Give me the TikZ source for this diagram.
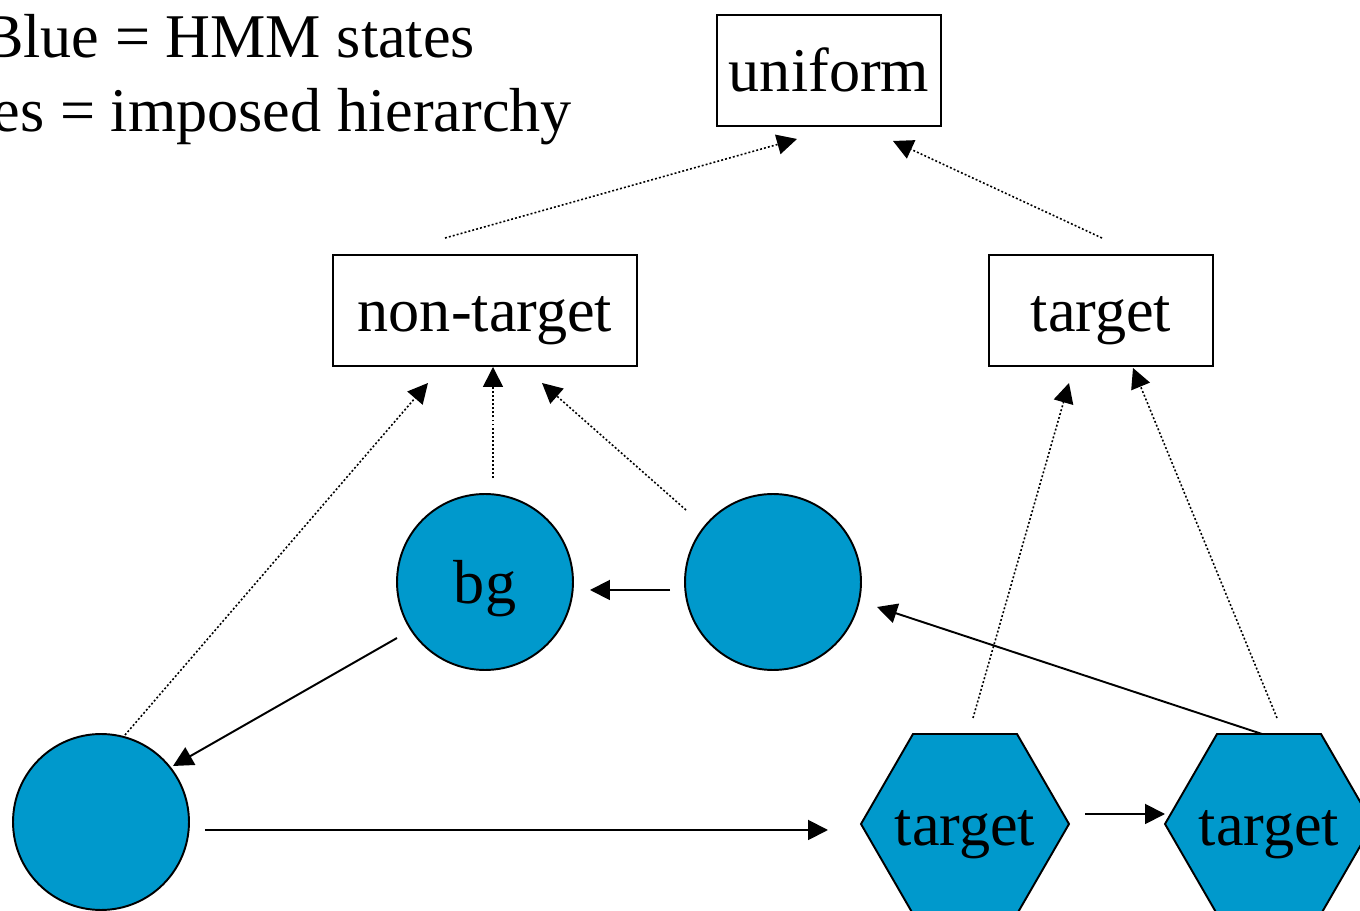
\documentclass[tikz,border=0pt]{standalone}
\usepackage{fontspec}
\setmainfont{Liberation Serif}
\usetikzlibrary{arrows.meta,calc}
\definecolor{hmmblue}{RGB}{0,153,204}

\begin{document}
\begin{tikzpicture}[x=0.02cm,y=-0.02cm,
  every node/.style={font=\fontsize{35.4}{42}\selectfont, inner sep=0pt, outer sep=0pt},
  level/.style={draw, line width=1.1pt, text height=24.4pt, text depth=0pt, minimum height=2.22cm},
  state/.style={circle, draw, line width=1.1pt, fill=hmmblue, minimum size=3.52cm, text height=24.4pt, text depth=0pt},
  hexlabel/.style={text height=24.4pt, text depth=0pt},
  hexbody/.style={draw, line width=1.1pt, fill=hmmblue, line join=miter},
  trans/.style={line width=1.1pt, -{Triangle[length=0.4cm,width=0.4cm]}},
  parent/.style={line width=0.9pt, dash pattern=on 1.1pt off 1.2pt, -{Triangle[length=0.4cm,width=0.4cm]}},
]
\fill[white] (0,0) rectangle (1360,911);
\useasboundingbox (0,0) rectangle (1360,911);

% legend
\node[anchor=base east] (leg1) at (475,58) {Blue = HMM states};
\node[anchor=base east] (leg2) at (572,132) {Boxes = imposed hierarchy};

% hierarchy boxes
\node[level, minimum width=4.48cm] (uni) at (829,70.5) {uniform};
\node[level, minimum width=6.08cm] (nt) at (485,310.5) {non-target};
\node[level, minimum width=4.48cm] (tg) at (1101,310.5) {target};

% HMM states
\node[state] (bg) at (485,582) {bg};
\node[state] (c2) at (773,582) {};
\node[state] (c3) at (101,822) {};

% target states: flat-topped hexagons
\coordinate (h1) at (965,824);
\coordinate (h2) at (1269,824);
\foreach \h in {h1,h2}
  \draw[hexbody] ($(\h)+(-104,0)$) -- ++(52,-90) -- ++(104,0) -- ++(52,90)
                 -- ++(-52,90) -- ++(-104,0) -- cycle;
\node[hexlabel] (h1t) at (h1) {target};
\node[hexlabel] (h2t) at (h2) {target};

% transitions
\draw[trans] ($(c2.west)+(-15,8)$) -- ($(bg.east)+(17,8)$);
\draw[trans] ($(bg)+(-88,56)$) -- ($(c3)+(72,-56)$);
\draw[trans] ($(c3.east)+(16,8)$) -- ($(h1)+(-137,6)$);
\draw[trans] ($(h1)+(120,-10)$) -- ($(h2)+(-104,-10)$);
\draw[trans] ($(h2)+(-7,-90)$) -- ($(c2)+(104,25)$);

% hierarchy links
\draw[parent] ($(nt.north)+(-40,-17)$) -- ($(uni.south)+(-32,13)$);
\draw[parent] ($(tg.north)+(1,-17)$) -- ($(uni.south)+(64,15)$);
\draw[parent] ($(c3)+(24,-87)$) -- ($(nt.south)+(-57,17)$);
\draw[parent] ($(bg.north)+(8,-16)$) -- ($(nt.south)+(8,1)$);
\draw[parent] ($(c2)+(-87,-72)$) -- ($(nt.south)+(57,17)$);
\draw[parent] ($(h1)+(8,-106)$) -- ($(tg.south)+(-32,17)$);
\draw[parent] ($(h2)+(8,-106)$) -- ($(tg.south)+(32,2)$);
\end{tikzpicture}
\end{document}
